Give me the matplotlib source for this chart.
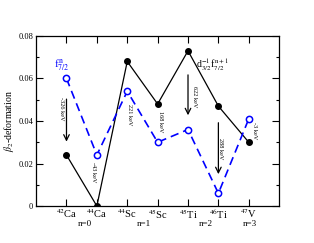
import matplotlib
matplotlib.use("Agg")
import matplotlib.pyplot as plt
from matplotlib.ticker import MultipleLocator

plt.rcParams['font.family'] = ['Liberation Serif', 'DejaVu Serif']
plt.rcParams['mathtext.fontset'] = 'stix'

nuclei = ["$^{42}$Ca", "$^{44}$Ca", "$^{44}$Sc", "$^{45}$Sc", "$^{45}$Ti", "$^{46}$Ti", "$^{47}$V"]
beta_d = [0.024, 0.0, 0.068, 0.048, 0.073, 0.047, 0.030]   # d3/2^-1 f7/2^n+1
beta_f = [0.060, 0.024, 0.054, 0.030, 0.036, 0.006, 0.041]  # f7/2^n
energies = ["-326 keV", "-43 keV", "221 keV", "168 keV", "622 keV", "288 keV", "-3 keV"]
label_x = [0.85, 1.9, 3.09, 4.08, 5.23, 6.08, 7.2]
label_y = [0.0456, 0.016, 0.043, 0.0395, 0.0513, 0.0268, 0.0353]
arrow_x = [1, 5, 6]
arrow_top = [0.0516, 0.063, 0.0405]
arrow_bot = [0.029, 0.0414, 0.0137]
n_labels = ["n=0", "n=1", "n=2", "n=3"]
n_x = [1.6, 3.55, 5.6, 7.04]
yticks = [0, 0.02, 0.04, 0.06, 0.08]
ytick_labels = ["0", "0.02", "0.04", "0.06", "0.08"]

x = list(range(1, len(nuclei) + 1))

fig = plt.figure(figsize=(3.14, 2.43), dpi=100)
ax = fig.add_axes([0.115, 0.152, 0.774, 0.700])

ax.plot(x, beta_d, color='black', lw=0.9, marker='o', ms=4)
ax.plot(x, beta_f, color='blue', lw=1.2, ls=(0, (5, 3)), marker='o', ms=4.5,
        mfc='white', mec='blue', mew=1.1)

for xa, yt, yb in zip(arrow_x, arrow_top, arrow_bot):
    ax.annotate("", xy=(xa, yb), xytext=(xa, yt),
                arrowprops=dict(arrowstyle='->', color='black', lw=0.9))

for t, lx, ly in zip(energies, label_x, label_y):
    ax.text(lx, ly, t, rotation=-90, fontsize=4.5, ha='center', va='center')

ax.text(0.6, 0.0668, r"f$^{\,\mathrm{n}}_{7/2}$", color='blue', fontsize=8,
        ha='left', va='center')
ax.text(5.25, 0.0665, r"d$^{-1}_{3/2}$f$^{\,\mathrm{n+1}}_{7/2}$", color='black',
        fontsize=7, ha='left', va='center')

ax.set_xlim(0, 8)
ax.set_ylim(0, 0.08)
ax.set_xticks(x)
ax.set_xticklabels(nuclei, fontsize=7.5)
ax.set_yticks(yticks)
ax.set_yticklabels(ytick_labels, fontsize=6)
ax.yaxis.set_minor_locator(MultipleLocator(0.01))
ax.tick_params(direction='in', top=True, right=True, length=5, width=0.8, pad=2)
ax.tick_params(which='minor', direction='in', right=True, length=2.5, width=0.8)
ax.tick_params(axis='x', pad=1)
ax.set_ylabel(r"$\beta_2$-deformation", fontsize=7, labelpad=2)
for s in ax.spines.values():
    s.set_linewidth(0.9)

for t, nx in zip(n_labels, n_x):
    ax.text(nx, -0.0085, t, fontsize=6.5, ha='center', va='center')

fig.savefig("out.png", dpi=100)
